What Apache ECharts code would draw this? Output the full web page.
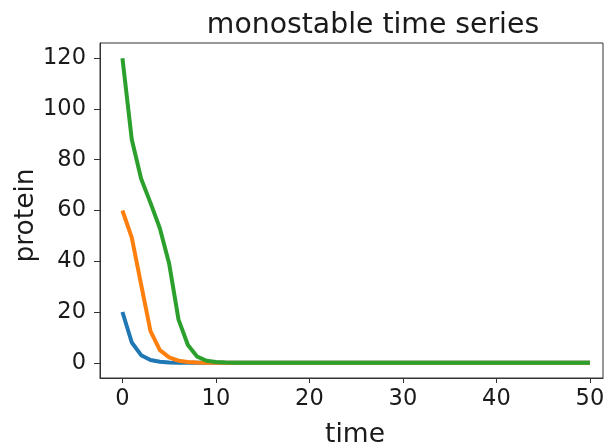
<!DOCTYPE html>
<html>
<head>
<meta charset="utf-8">
<script src="https://cdn.jsdelivr.net/npm/echarts@6/dist/echarts.min.js"></script>
<style>
  html, body { margin: 0; padding: 0; background: #fff; }
  #chart { width: 605px; height: 443px; }
</style>
</head>
<body>
<div id="chart"></div>
<script>
var time = [0, 1, 2, 3, 4, 5, 6, 7, 8, 9, 10, 11, 12, 13, 14, 15, 16, 17, 18, 19, 20,
  21, 22, 23, 24, 25, 26, 27, 28, 29, 30, 31, 32, 33, 34, 35, 36, 37, 38, 39, 40,
  41, 42, 43, 44, 45, 46, 47, 48, 49, 50];
var low = [20, 8, 3, 1.1, 0.4, 0.15, 0.05, 0.02, 0, 0, 0, 0, 0, 0, 0, 0, 0, 0, 0, 0, 0,
  0, 0, 0, 0, 0, 0, 0, 0, 0, 0, 0, 0, 0, 0, 0, 0, 0, 0, 0, 0,
  0, 0, 0, 0, 0, 0, 0, 0, 0, 0];
var mid = [60, 49.3, 30.8, 12.5, 5, 2.1, 0.8, 0.3, 0.1, 0.03, 0, 0, 0, 0, 0, 0, 0, 0, 0, 0, 0,
  0, 0, 0, 0, 0, 0, 0, 0, 0, 0, 0, 0, 0, 0, 0, 0, 0, 0, 0, 0,
  0, 0, 0, 0, 0, 0, 0, 0, 0, 0];
var high = [120, 88, 72.5, 63, 53, 39, 17, 7, 2.4, 0.8, 0.3, 0.1, 0.03, 0, 0, 0, 0, 0, 0, 0, 0,
  0, 0, 0, 0, 0, 0, 0, 0, 0, 0, 0, 0, 0, 0, 0, 0, 0, 0, 0, 0,
  0, 0, 0, 0, 0, 0, 0, 0, 0, 0];
var xTicks = [0, 10, 20, 30, 40, 50];
var yTicks = [0, 20, 40, 60, 80, 100, 120];

var colors = ['#1f77b4', '#ff7f0e', '#2ca02c'];
var font = 'DejaVu Sans';

function pairs(ys) {
  return time.map(function (t, i) { return [t, ys[i]]; });
}

var chart = echarts.init(document.getElementById('chart'));

var option = {
  animation: false,
  backgroundColor: '#fff',
  title: {
    text: 'monostable time series',
    left: 368,
    top: 7,
    textAlign: 'center',
    textStyle: { fontFamily: font, fontSize: 28.3, fontWeight: 'normal', color: '#1a1a1a' }
  },
  grid: {
    left: 100, right: 2, top: 43, bottom: 65,
    outerBoundsMode: 'none',
    containLabel: false,
    show: true, borderColor: '#333', borderWidth: 1
  },
  xAxis: {
    type: 'value',
    min: -2.4,
    max: 51.4,
    name: 'time',
    nameLocation: 'middle',
    nameGap: 44,
    nameMoveOverlap: false,
    nameTextStyle: { fontFamily: font, fontSize: 26.5, color: '#1a1a1a', padding: [0, 0, 0, 7] },
    axisLine: { show: true, onZero: false, lineStyle: { color: '#333', width: 1 } },
    axisTick: { show: true, length: 5, customValues: xTicks, lineStyle: { color: '#333' } },
    axisLabel: { customValues: xTicks, fontFamily: font, fontSize: 22.5, color: '#1a1a1a', margin: 10 },
    splitLine: { show: false }
  },
  yAxis: {
    type: 'value',
    min: -6,
    max: 126,
    name: 'protein',
    nameLocation: 'middle',
    nameGap: 60,
    nameMoveOverlap: false,
    nameTextStyle: { fontFamily: font, fontSize: 26.5, color: '#1a1a1a', padding: [0, 10, 0, 0] },
    axisLine: { show: true, onZero: false, lineStyle: { color: '#333', width: 1 } },
    axisTick: { show: true, length: 6, customValues: yTicks, lineStyle: { color: '#333' } },
    axisLabel: { customValues: yTicks, fontFamily: font, fontSize: 22.5, color: '#1a1a1a', margin: 14 },
    splitLine: { show: false }
  },
  series: [low, mid, high].map(function (ys, i) {
    return {
      type: 'line',
      data: pairs(ys),
      showSymbol: false,
      color: colors[i],
      lineStyle: { width: 4, color: colors[i] }
    };
  })
};

chart.setOption(option);
</script>
</body>
</html>
